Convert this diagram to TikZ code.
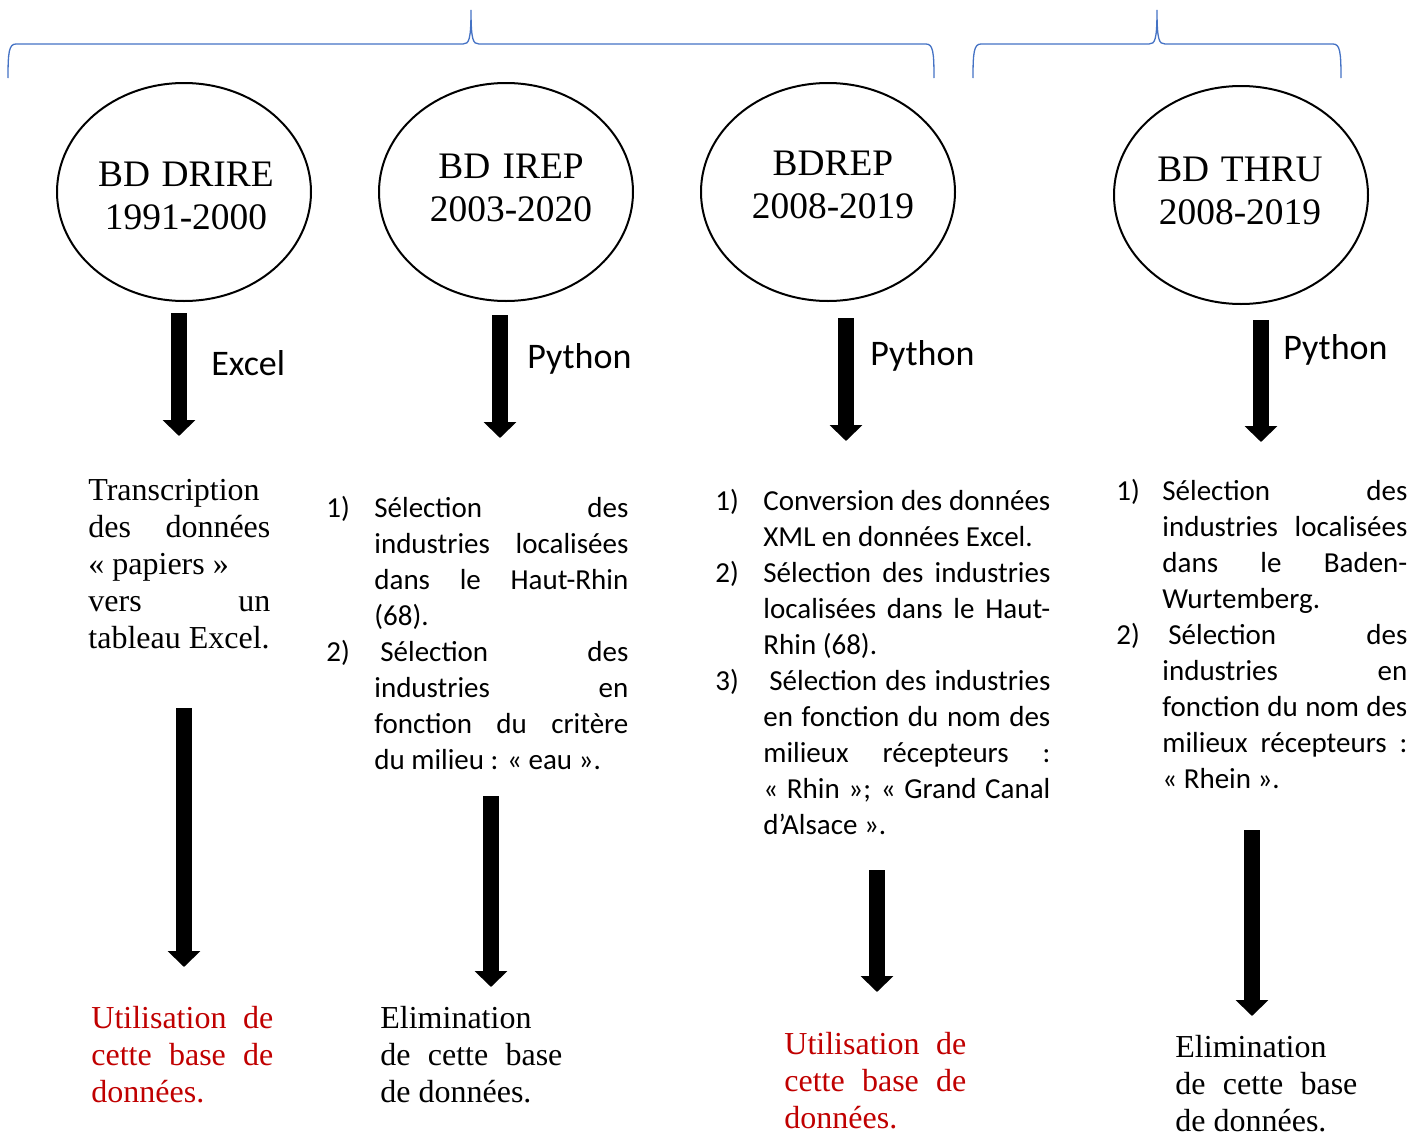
\documentclass[tikz,border=0pt]{standalone}
\usepackage{fontspec}
\setmainfont{Liberation Serif}
\newfontfamily\calfont{Carlito}
\usetikzlibrary{shapes.geometric,arrows.meta}
\definecolor{bracecol}{HTML}{4472C4}
\definecolor{resred}{HTML}{C00000}
\newlength\numw
\newlength\txtw
\newcommand\normspaces{\spaceskip=0pt\xspaceskip=0pt\relax}
\newcommand\jline[1]{\makebox[\linewidth][s]{\normspaces #1}}
\newcommand\itemj[2]{\makebox[\numw][l]{#1}\makebox[\txtw][s]{\normspaces #2}}
\newcommand\iteml[2]{\makebox[\numw][l]{#1}\mbox{\normspaces #2}}
\tikzset{
  dbell/.style={draw, ellipse, line width=1pt, inner sep=0pt, outer sep=0pt, minimum width=127pt, minimum height=109pt},
  dbname/.style={font=\fontsize{18.7}{21.5}\selectfont, align=center, text width=120pt, anchor=base, inner sep=0pt, execute at begin node=\normspaces},
  bigarrow/.style={line width=8pt, -{Triangle[width=16pt,length=8pt]}},
  toollabel/.style={font=\calfont\fontsize{18}{22}\selectfont, anchor=base west, inner sep=0pt},
  serifblock/.style={font=\fontsize{16}{18.5}\selectfont, anchor=base west, inner sep=0pt, text width=91pt, execute at begin node=\normspaces},
  listblock/.style={font=\calfont\fontsize{14.5}{18}\selectfont, anchor=base west, inner sep=0pt, execute at begin node=\normspaces},
  bracket/.style={draw=bracecol, line width=0.65pt},
}
\begin{document}
\begin{tikzpicture}[x=0.5pt, y=-0.5pt]
\useasboundingbox (0,0) rectangle (1420,1135);

% braces
\draw[bracket] (8,78) .. controls (8,52) and (9,44) .. (16,44) -- (463,44)
  .. controls (469,44) and (471,40) .. (471,10)
  .. controls (471,40) and (473,44) .. (479,44) -- (926,44)
  .. controls (933,44) and (934,52) .. (934,78);
\draw[bracket] (973,78) .. controls (973,52) and (974,44) .. (981,44) -- (1149,44)
  .. controls (1155,44) and (1157,40) .. (1157,10)
  .. controls (1157,40) and (1159,44) .. (1165,44) -- (1333,44)
  .. controls (1340,44) and (1341,52) .. (1341,78);

% ellipses
\node[dbell] (e1) at (184,192) {};
\node[dbell] (e2) at (506,192) {};
\node[dbell] (e3) at (828,192) {};
\node[dbell] (e4) at (1241,195) {};
\node[dbname] (t1) at (186,186) {BD DRIRE\\1991-2000};
\node[dbname] (t2) at (511,178) {BD IREP\\2003-2020};
\node[dbname] (t3) at (833,175) {BDREP\\2008-2019};
\node[dbname] (t4) at (1240,181) {BD THRU\\2008-2019};

% first arrows
\coordinate (a1t) at (179,313); \coordinate (a1h) at (179,436);
\coordinate (a2t) at (500,315); \coordinate (a2h) at (500,438);
\coordinate (a3t) at (846,318); \coordinate (a3h) at (846,441);
\coordinate (a4t) at (1261,320); \coordinate (a4h) at (1261,442);
\draw[bigarrow] (a1t) -- (a1h);
\draw[bigarrow] (a2t) -- (a2h);
\draw[bigarrow] (a3t) -- (a3h);
\draw[bigarrow] (a4t) -- (a4h);
\node[toollabel] (l1) at (211,375) {Excel};
\node[toollabel] (l2) at (527,368) {Python};
\node[toollabel] (l3) at (870,365) {Python};
\node[toollabel] (l4) at (1283,359) {Python};

% step texts
\node[serifblock] (s1) at (88,500) {Transcription\\
\jline{des données}\\
\mbox{\normspaces « papiers »}\\
\jline{vers un}\\
\mbox{\normspaces tableau Excel.}};

\node[listblock, text width=151pt] (s2) at (326,517) {\setlength\numw{24pt}\setlength\txtw{127pt}%
\itemj{1)}{Sélection des}\\
\itemj{}{industries localisées}\\
\itemj{}{dans le Haut-Rhin}\\
\iteml{}{(68).}\\
\itemj{2)}{\hspace{3pt}Sélection des}\\
\itemj{}{industries en}\\
\itemj{}{fonction du critère}\\
\iteml{}{du milieu : « eau ».}};

\node[listblock, text width=167.5pt] (s3) at (715,510) {\setlength\numw{24pt}\setlength\txtw{143.5pt}%
\itemj{1)}{Conversion des données}\\
\iteml{}{XML en données Excel.}\\
\itemj{2)}{Sélection des industries}\\
\itemj{}{localisées dans le Haut-}\\
\iteml{}{Rhin (68).}\\
\itemj{3)}{\hspace{3pt}Sélection des industries}\\
\itemj{}{en fonction du nom des}\\
\itemj{}{milieux récepteurs :}\\
\itemj{}{« Rhin »; « Grand Canal}\\
\iteml{}{d’Alsace ».}};

\node[listblock, text width=145.5pt] (s4) at (1116,500) {\setlength\numw{23pt}\setlength\txtw{122.5pt}%
\itemj{1)}{Sélection des}\\
\itemj{}{industries localisées}\\
\itemj{}{dans le Baden-}\\
\iteml{}{Wurtemberg.}\\
\itemj{2)}{\hspace{3pt}Sélection des}\\
\itemj{}{industries en}\\
\itemj{}{fonction du nom des}\\
\itemj{}{milieux récepteurs :}\\
\iteml{}{« Rhein ».}};

% second arrows
\coordinate (b1t) at (184,708); \coordinate (b1h) at (184,967);
\coordinate (b2t) at (491,796); \coordinate (b2h) at (491,987);
\coordinate (b3t) at (877,870); \coordinate (b3h) at (877,992);
\coordinate (b4t) at (1252,830); \coordinate (b4h) at (1252,1016);
\draw[bigarrow] (b1t) -- (b1h);
\draw[bigarrow] (b2t) -- (b2h);
\draw[bigarrow] (b3t) -- (b3h);
\draw[bigarrow] (b4t) -- (b4h);

% results
\node[serifblock, text=resred] (r1) at (91,1028) {\jline{Utilisation de}\\
\jline{cette base de}\\
données.};
\node[serifblock] (r2) at (380,1028) {Elimination\\
\jline{de cette base}\\
\mbox{\normspaces de données.}};
\node[serifblock, text=resred] (r3) at (784,1054) {\jline{Utilisation de}\\
\jline{cette base de}\\
données.};
\node[serifblock] (r4) at (1175,1057) {Elimination\\
\jline{de cette base}\\
\mbox{\normspaces de données.}};
\end{tikzpicture}
\end{document}
